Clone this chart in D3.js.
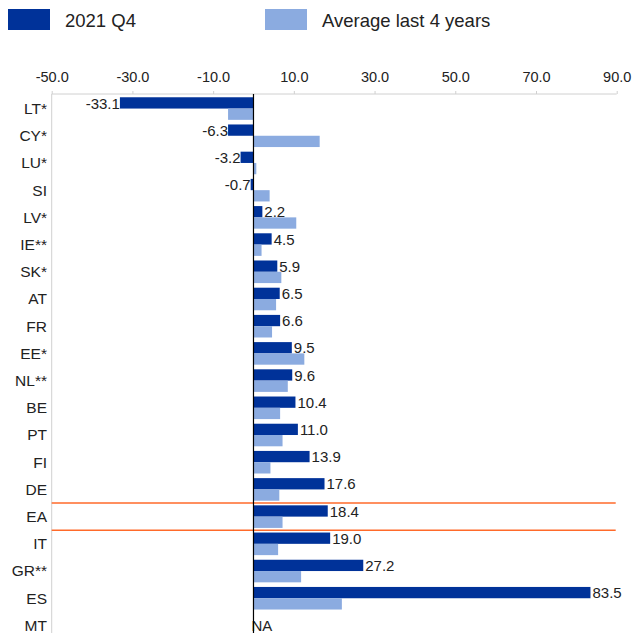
<!DOCTYPE html>
<html>
<head>
<meta charset="utf-8">
<script src="https://cdn.jsdelivr.net/npm/d3@7"></script>
<style>
  body { margin: 0; background: #fff; }
  text { font-family: "Liberation Sans", Arial, sans-serif; fill: #222; }
</style>
</head>
<body>
<div id="chart"></div>
<script>
const categories = ['LT*', 'CY*', 'LU*', 'SI', 'LV*', 'IE**', 'SK*', 'AT', 'FR', 'EE*',
  'NL**', 'BE', 'PT', 'FI', 'DE', 'EA', 'IT', 'GR**', 'ES', 'MT'];
const q4Values = [-33.1, -6.3, -3.2, -0.7, 2.2, 4.5, 5.9, 6.5, 6.6, 9.5,
  9.6, 10.4, 11.0, 13.9, 17.6, 18.4, 19.0, 27.2, 83.5, null];
const avgValues = [-6.3, 16.4, 0.7, 4.0, 10.6, 2.0, 6.9, 5.6, 4.6, 12.6,
  8.5, 6.6, 7.2, 4.2, 6.4, 7.2, 6.1, 11.8, 21.9, null];
const seriesNames = ['2021 Q4', 'Average last 4 years'];
const tickValues = [-50, -30, -10, 10, 30, 50, 70, 90];
const highlight = 'EA';

const colours = ['#003299', '#8babe0'];
const W = 634, H = 633;

// plain hyphen instead of the unicode minus d3 uses
const fmt = d => d.toFixed(1);

const svg = d3.select('#chart').append('svg')
  .attr('width', W).attr('height', H);

// legend
const legendX = [8, 265];
seriesNames.forEach((name, i) => {
  svg.append('rect')
    .attr('x', legendX[i]).attr('y', 9)
    .attr('width', 42).attr('height', 21)
    .attr('fill', colours[i]);
  svg.append('text')
    .attr('x', legendX[i] + 57).attr('y', 26.5)
    .attr('font-size', '18.5px')
    .text(name);
});

const x = d3.scaleLinear().domain([-50, 90]).range([51.7, 616.7]);
const y = d3.scaleBand().domain(categories).range([94, 640])
  .paddingInner(0.17).paddingOuter(0.12);
const sub = d3.scaleBand().domain([0, 1]).range([0, y.bandwidth()]);

// top axis
svg.append('g')
  .attr('transform', 'translate(0, 94)')
  .call(g => {
    g.call(d3.axisTop(x).tickValues(tickValues).tickFormat(fmt)
      .tickSize(3).tickPadding(9));
    g.select('.domain').attr('stroke', '#d0d0d0').attr('d', `M${x(-50)},0H${x(90)}`);
    g.selectAll('.tick line').attr('stroke', '#d0d0d0');
    g.selectAll('.tick text').attr('font-size', '14.5px').attr('fill', '#222')
      .attr('font-family', '"Liberation Sans", Arial, sans-serif');
  });

// left axis line
svg.append('line')
  .attr('x1', x(-50)).attr('x2', x(-50))
  .attr('y1', 94).attr('y2', H)
  .attr('stroke', '#d0d0d0');

// category labels
svg.selectAll('.cat')
  .data(categories)
  .enter().append('text')
    .attr('class', 'cat')
    .attr('x', 47)
    .attr('y', d => y(d) + y.bandwidth() / 2)
    .attr('dy', '0.35em')
    .attr('text-anchor', 'end')
    .attr('font-size', '15.5px')
    .text(d => d);

// bars
[q4Values, avgValues].forEach((vals, s) => {
  svg.selectAll('.bar' + s)
    .data(categories.map((c, i) => ({c, v: vals[i]})).filter(d => d.v !== null))
    .enter().append('rect')
      .attr('class', 'bar' + s)
      .attr('x', d => x(Math.min(0, d.v)))
      .attr('width', d => Math.abs(x(d.v) - x(0)))
      .attr('y', d => y(d.c) + sub(s))
      .attr('height', sub.bandwidth())
      .attr('fill', colours[s]);
});

// value labels
svg.selectAll('.val')
  .data(categories.map((c, i) => ({c, v: q4Values[i]})))
  .enter().append('text')
    .attr('class', 'val')
    .attr('font-size', '15px')
    .attr('x', d => d.v === null ? x(0) - 2 : (d.v < 0 ? x(d.v) : x(d.v) + 2))
    .attr('y', d => d.v === null ? y(d.c) + y.bandwidth() / 2 : y(d.c) + sub.bandwidth())
    .attr('dy', d => d.v === null ? '0.35em' : 0)
    .attr('text-anchor', d => d.v !== null && d.v < 0 ? 'end' : 'start')
    .text(d => d.v === null ? 'NA' : fmt(d.v));

// highlight lines around EA
const gap = y.step() - y.bandwidth();
[y(highlight) - gap / 2, y(highlight) + y.bandwidth() + gap / 2].forEach(ly => {
  svg.append('line')
    .attr('x1', x(-50)).attr('x2', x(90) - 1)
    .attr('y1', ly).attr('y2', ly)
    .attr('stroke', '#ff6a2a').attr('stroke-width', 1.3);
});

// zero line
svg.append('line')
  .attr('x1', x(0)).attr('x2', x(0))
  .attr('y1', 94).attr('y2', H)
  .attr('stroke', '#000').attr('stroke-width', 1.2);
</script>
</body>
</html>
